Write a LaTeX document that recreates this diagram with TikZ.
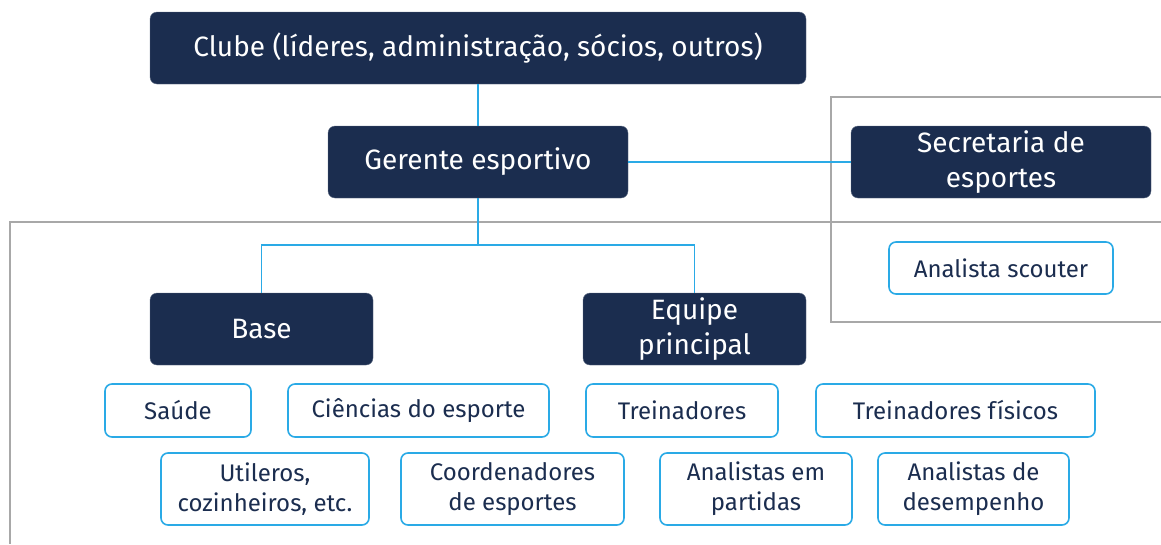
\documentclass[tikz,border=0pt]{standalone}
\usepackage{fontspec}
\setmainfont{Fira Sans}
\usepackage{xcolor}
\definecolor{boxnavy}{HTML}{1B2D4F}
\definecolor{linkblue}{HTML}{2AAAE6}
\definecolor{framegray}{HTML}{A8A8A8}
\tikzset{
    headbox/.style = {fill = boxnavy, draw = boxnavy!70!white, rounded corners = 7pt, text = white, align = center, inner sep = 0pt, minimum height = 72pt, font = \fontsize{28}{35}\selectfont},
    rolebox/.style = {fill = white, draw = linkblue, line width = 1.6pt, rounded corners = 7pt, text = boxnavy, align = center, inner sep = 0pt, font = \fontsize{24}{30}\selectfont},
    link/.style = {draw = linkblue, line width = 1.6pt},
    frame/.style = {draw = framegray, line width = 1.6pt}
}

\begin{document}
\begin{tikzpicture}[x = 1pt, y = -1pt]

        \useasboundingbox (0, 0) rectangle (1161, 544);

        % Gray frames
        \draw [frame] (1161, 222) -- (10, 222) -- (10, 544);
        \draw [frame] (1161, 97) -- (831, 97) -- (831, 322) -- (1161, 322);

        % Dark boxes
        \node [headbox, minimum width = 656pt] (clube) at (478, 48) {Clube (líderes, administração, sócios, outros)};
        \node [headbox, minimum width = 300pt] (gerente) at (478, 162) {Gerente esportivo};
        \node [headbox, minimum width = 300pt] (secretaria) at (1001, 162) {Secretaria de\\esportes};
        \node [headbox, minimum width = 223pt] (base) at (261.5, 329) {Base};
        \node [headbox, minimum width = 223pt] (equipe) at (694.5, 329) {Equipe\\principal};

        % Outlined boxes
        \node [rolebox, minimum width = 224pt, minimum height = 52pt] (scouter) at (1001, 268) {Analista scouter};
        \node [rolebox, minimum width = 146pt, minimum height = 53pt] (saude) at (178, 410.5) {Saúde};
        \node [rolebox, minimum width = 261pt, minimum height = 53pt] (ciencias) at (418.5, 410.5) {Ciências do esporte};
        \node [rolebox, minimum width = 192pt, minimum height = 53pt] (treinadores) at (682, 410.5) {Treinadores};
        \node [rolebox, minimum width = 279pt, minimum height = 53pt] (fisicos) at (955.5, 410.5) {Treinadores físicos};
        \node [rolebox, minimum width = 208pt, minimum height = 72pt] (utileros) at (265, 489) {Utileros,\\cozinheiros, etc.};
        \node [rolebox, minimum width = 223pt, minimum height = 72pt] (coordenadores) at (512.5, 489) {Coordenadores\\de esportes};
        \node [rolebox, minimum width = 192pt, minimum height = 72pt] (partidas) at (756, 489) {Analistas em\\partidas};
        \node [rolebox, minimum width = 191pt, minimum height = 72pt] (desempenho) at (973.5, 489) {Analistas de\\desempenho};

        % Connectors
        \coordinate (split) at (478, 245);
        \draw [link] (clube) -- (gerente);
        \draw [link] (gerente) -- (secretaria);
        \draw [link] (gerente) -- (split);
        \draw [link] (base.north) |- (split) -| (equipe.north);

\end{tikzpicture}
\end{document}
